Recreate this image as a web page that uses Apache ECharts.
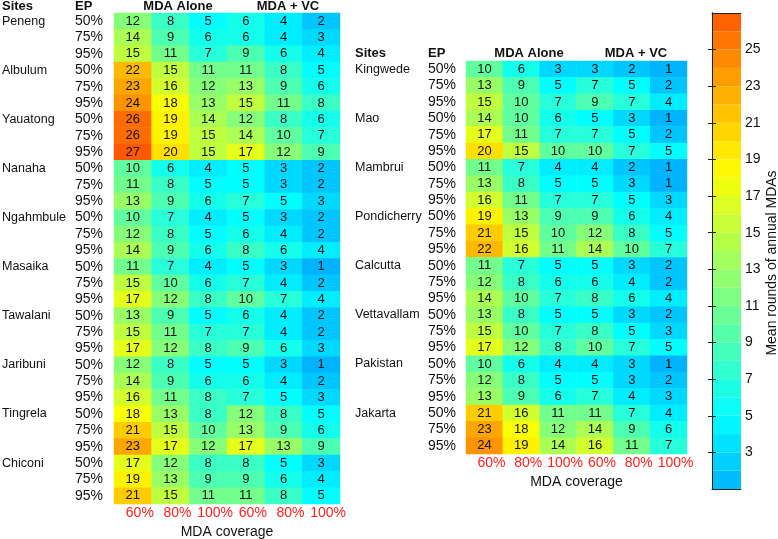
<!DOCTYPE html>
<html><head><meta charset="utf-8">
<script src="https://cdn.jsdelivr.net/npm/echarts@6/dist/echarts.min.js"></script>
<style>html,body{margin:0;padding:0;background:#fff}#c{width:778px;height:539px}</style>
</head><body><div id="c"></div>
<script>
// ---------- DATA ----------
const epLevels = ['50%', '75%', '95%'];
const coverageLabels = ['60%', '80%', '100%', '60%', '80%', '100%'];

const leftSites = ['Peneng', 'Albulum', 'Yauatong', 'Nanaha', 'Ngahmbule', 'Masaika', 'Tawalani', 'Jaribuni', 'Tingrela', 'Chiconi'];
const leftValues = [
  [12, 8, 5, 6, 4, 2], [14, 9, 6, 6, 4, 3], [15, 11, 7, 9, 6, 4],        // Peneng
  [22, 15, 11, 11, 8, 5], [23, 16, 12, 13, 9, 6], [24, 18, 13, 15, 11, 8], // Albulum
  [26, 19, 14, 12, 8, 6], [26, 19, 15, 14, 10, 7], [27, 20, 15, 17, 12, 9], // Yauatong
  [10, 6, 4, 5, 3, 2], [11, 8, 5, 5, 3, 2], [13, 9, 6, 7, 5, 3],          // Nanaha
  [10, 7, 4, 5, 3, 2], [12, 8, 5, 6, 4, 2], [14, 9, 6, 8, 6, 4],          // Ngahmbule
  [11, 7, 4, 5, 3, 1], [15, 10, 6, 7, 4, 2], [17, 12, 8, 10, 7, 4],       // Masaika
  [13, 9, 5, 6, 4, 2], [15, 11, 7, 7, 4, 2], [17, 12, 8, 9, 6, 3],        // Tawalani
  [12, 8, 5, 5, 3, 1], [14, 9, 6, 6, 4, 2], [16, 11, 8, 7, 5, 3],         // Jaribuni
  [18, 13, 8, 12, 8, 5], [21, 15, 10, 13, 9, 6], [23, 17, 12, 17, 13, 9], // Tingrela
  [17, 12, 8, 8, 5, 3], [19, 13, 9, 9, 6, 4], [21, 15, 11, 11, 8, 5]      // Chiconi
];

const rightSites = ['Kingwede', 'Mao', 'Mambrui', 'Pondicherry', 'Calcutta', 'Vettavallam', 'Pakistan', 'Jakarta'];
const rightValues = [
  [10, 6, 3, 3, 2, 1], [13, 9, 5, 7, 5, 2], [15, 10, 7, 9, 7, 4],         // Kingwede
  [14, 10, 6, 5, 3, 1], [17, 11, 7, 7, 5, 2], [20, 15, 10, 10, 7, 5],     // Mao
  [11, 7, 4, 4, 2, 1], [13, 8, 5, 5, 3, 1], [16, 11, 7, 7, 5, 3],         // Mambrui
  [19, 13, 9, 9, 6, 4], [21, 15, 10, 12, 8, 5], [22, 16, 11, 14, 10, 7],  // Pondicherry
  [11, 7, 5, 5, 3, 2], [12, 8, 6, 6, 4, 2], [14, 10, 7, 8, 6, 4],         // Calcutta
  [13, 8, 5, 5, 3, 2], [15, 10, 7, 8, 5, 3], [17, 12, 8, 10, 7, 5],       // Vettavallam
  [10, 6, 4, 4, 3, 1], [12, 8, 5, 5, 3, 2], [13, 9, 6, 7, 4, 3],          // Pakistan
  [21, 16, 11, 11, 7, 4], [23, 18, 12, 14, 9, 6], [24, 19, 14, 16, 11, 7] // Jakarta
];

const colorbarTicks = [3, 5, 7, 9, 11, 13, 15, 17, 19, 21, 23, 25];
const colorbarBands = [1, 2, 3, 4, 5, 6, 7, 8, 9, 10, 11, 12, 13, 14, 15, 16, 17, 18, 19, 20, 21, 22, 23, 24, 25, 26];
const colorMin = 1, colorMax = 27;

// ---------- STYLE ----------
const FONT = 'Liberation Sans, Arial, Helvetica, sans-serif';
function jetColor(t) {
  const c = x => Math.round(255 * Math.max(0, Math.min(1, x)));
  const r = c(1.5 - Math.abs(4 * t - 3)), g = c(1.5 - Math.abs(4 * t - 2)), b = c(1.5 - Math.abs(4 * t - 1));
  return 'rgb(' + r + ',' + g + ',' + b + ')';
}
const palette = [];
for (let i = 0; i <= 26; i++) palette.push(jetColor(0.30 + i / 26 * 0.4875));

function rowKeys(sites) {
  const out = [];
  sites.forEach(s => epLevels.forEach(e => out.push(s + '|' + e)));
  return out;
}
function cells(values) {
  const out = [];
  values.forEach((row, r) => row.forEach((v, c) => out.push([c, r, v])));
  return out;
}
const leftRows = rowKeys(leftSites);
const rightRows = rowKeys(rightSites);

function xAxisFor(grid, gap) {
  return {
    gridIndex: grid, type: 'category', data: coverageLabels, position: 'bottom',
    axisLine: { show: false }, axisTick: { show: false }, splitLine: { show: false },
    axisLabel: { color: '#ff2020', fontSize: 14, fontFamily: FONT, margin: 2, padding: [0, 0, 0, 14], interval: 0 },
    name: 'MDA coverage', nameLocation: 'middle', nameGap: gap,
    nameTextStyle: { color: '#111', fontSize: 14, fontFamily: FONT, verticalAlign: 'top' }
  };
}
function yAxesFor(grid, rows, epMargin, siteMargin) {
  return [
    {
      gridIndex: grid, type: 'category', data: rows, inverse: true, position: 'left',
      axisLine: { show: false }, axisTick: { show: false }, splitLine: { show: false },
      axisLabel: { interval: 0, margin: epMargin, color: '#111', fontSize: 14, fontFamily: FONT, formatter: v => v.split('|')[1] }
    },
    {
      gridIndex: grid, type: 'category', data: rows, inverse: true, position: 'left',
      axisLine: { show: false }, axisTick: { show: false }, splitLine: { show: false },
      axisLabel: { interval: 0, margin: siteMargin, align: 'left', color: '#111', fontSize: 12.5, fontFamily: FONT,
        formatter: (v, i) => (i % 3 === 0 ? v.split('|')[0] : '') }
    }
  ];
}

const cellLabel = { show: true, color: '#111', fontSize: 13, fontFamily: FONT, formatter: p => p.value[2] };

const option = {
  backgroundColor: '#fff',
  animation: false,
  grid: [
    { left: 114, top: 13, width: 226, height: 491, outerBoundsMode: 'none' },
    { left: 466, top: 61, width: 221, height: 393, outerBoundsMode: 'none' },
    { left: 712, top: 13, width: 29, height: 476, outerBoundsMode: 'none' }
  ],
  xAxis: [
    xAxisFor(0, 18),
    xAxisFor(1, 17),
    { gridIndex: 2, type: 'value', min: 0, max: 1, position: 'bottom', z: 5,
      axisLine: { show: true, lineStyle: { color: '#222', width: 1 } }, axisTick: { show: false }, axisLabel: { show: false }, splitLine: { show: false } },
    { gridIndex: 2, type: 'value', min: 0, max: 1, position: 'top', z: 5,
      axisLine: { show: true, lineStyle: { color: '#222', width: 1 } }, axisTick: { show: false }, axisLabel: { show: false }, splitLine: { show: false } }
  ],
  yAxis: [
    ...yAxesFor(0, leftRows, 11, 112),
    ...yAxesFor(1, rightRows, 10, 111),
    { gridIndex: 2, type: 'value', min: colorMin, max: colorMax, position: 'right', z: 5,
      axisLine: { show: true, lineStyle: { color: '#222', width: 1 } },
      axisTick: { show: true, inside: true, length: 4, customValues: colorbarTicks, lineStyle: { color: '#222' } },
      axisLabel: { show: true, customValues: colorbarTicks, margin: 4, color: '#111', fontSize: 14, fontFamily: FONT },
      splitLine: { show: false } },
    { gridIndex: 2, type: 'value', min: colorMin, max: colorMax, position: 'left', z: 5,
      axisLine: { show: true, lineStyle: { color: '#222', width: 1 } },
      axisTick: { show: true, inside: true, length: 4, customValues: colorbarTicks, lineStyle: { color: '#222' } },
      axisLabel: { show: false }, splitLine: { show: false } }
  ],
  visualMap: {
    type: 'continuous', min: colorMin, max: colorMax, dimension: 2, seriesIndex: [0, 1, 2], show: false,
    inRange: { color: palette }
  },
  series: [
    { type: 'heatmap', xAxisIndex: 0, yAxisIndex: 0, data: cells(leftValues), label: cellLabel, itemStyle: { borderWidth: 0 } },
    { type: 'heatmap', xAxisIndex: 1, yAxisIndex: 2, data: cells(rightValues), label: cellLabel, itemStyle: { borderWidth: 0 } },
    { type: 'custom', xAxisIndex: 2, yAxisIndex: 4, z: 1,
      data: colorbarBands.map(b => [0, b, b + 0.5]),
      encode: { x: 0, y: 1 },
      renderItem: (params, api) => {
        const lo = api.value(1);
        const a = api.coord([0, lo + 1]);
        const b = api.coord([1, lo]);
        return { type: 'rect', shape: { x: a[0], y: a[1], width: b[0] - a[0], height: b[1] - a[1] },
          style: { fill: api.visual('color') } };
      } }
  ],
  graphic: [
    { type: 'text', left: 2, top: 0, style: { text: 'Sites', font: 'bold 13px ' + FONT, fill: '#111' } },
    { type: 'text', left: 75, top: 0, style: { text: 'EP', font: 'bold 13px ' + FONT, fill: '#111' } },
    { type: 'text', x: 178, y: 6, style: { text: 'MDA Alone', font: 'bold 13px ' + FONT, fill: '#111', align: 'center', verticalAlign: 'middle' } },
    { type: 'text', x: 288, y: 6, style: { text: 'MDA + VC', font: 'bold 13px ' + FONT, fill: '#111', align: 'center', verticalAlign: 'middle' } },
    { type: 'text', x: 355, y: 53, style: { text: 'Sites', font: 'bold 13px ' + FONT, fill: '#111', verticalAlign: 'middle' } },
    { type: 'text', x: 428, y: 53, style: { text: 'EP', font: 'bold 13px ' + FONT, fill: '#111', verticalAlign: 'middle' } },
    { type: 'text', x: 529, y: 53, style: { text: 'MDA Alone', font: 'bold 13px ' + FONT, fill: '#111', align: 'center', verticalAlign: 'middle' } },
    { type: 'text', x: 636, y: 53, style: { text: 'MDA + VC', font: 'bold 13px ' + FONT, fill: '#111', align: 'center', verticalAlign: 'middle' } },
    { type: 'text', x: 772, y: 263, rotation: Math.PI / 2,
      style: { text: 'Mean rounds of annual MDAs', font: '14px ' + FONT, fill: '#111', align: 'center', verticalAlign: 'middle' } }
  ]
};

const chart = echarts.init(document.getElementById('c'), null, { renderer: 'canvas' });
chart.setOption(option);
</script>
</body></html>
